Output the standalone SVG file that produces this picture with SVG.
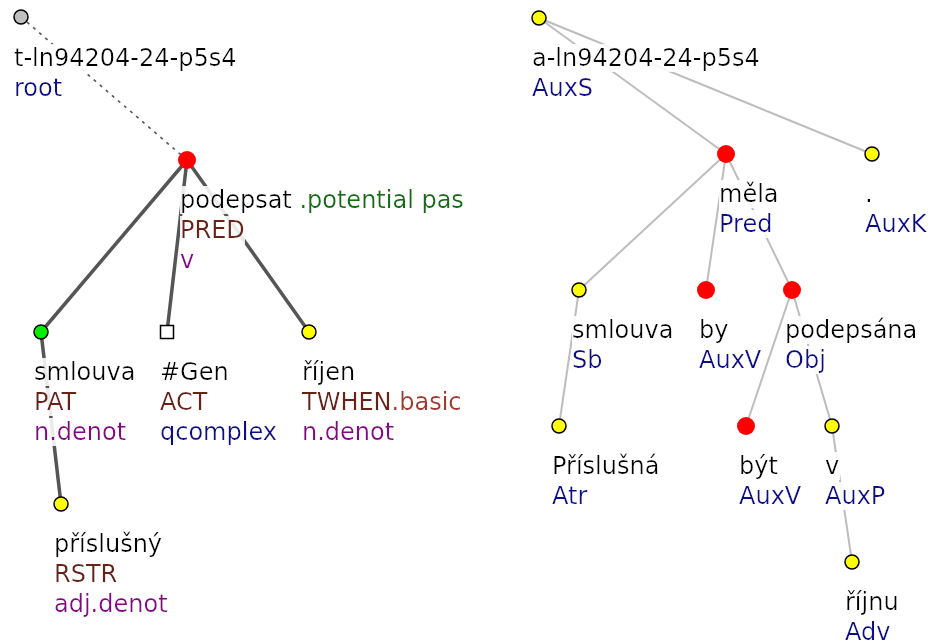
<svg xmlns="http://www.w3.org/2000/svg" width="930" height="641" viewBox="0 0 930 641">
  <defs>
    <!-- translucent white plate behind each label line, sized to the text box -->
    <filter id="plate" x="0" y="0" width="1" height="1">
      <feFlood flood-color="#ffffff" flood-opacity="0.88" result="bg"/>
      <feMerge>
        <feMergeNode in="bg"/>
        <feMergeNode in="SourceGraphic"/>
      </feMerge>
    </filter>
  </defs>
  <style>
    text { font-family: "DejaVu Sans", "Liberation Sans", sans-serif; font-size: 24px; fill: #000; filter: url(#plate); }
    .blue { fill: #0a0a8c; }
    .func { fill: #6b2012; }
    .sem { fill: #8b008b; }
    .gram { fill: #0f6f0f; }
    .gram2 { fill: #a3372a; }
    .tedge { stroke: #555555; stroke-width: 3.5; stroke-linecap: round; fill: none; }
    .dash { stroke: #555555; stroke-width: 1.6; stroke-dasharray: 3 5; fill: none; }
    .aedge { stroke: #bdbdbd; stroke-width: 2; fill: none; }
    .yel { fill: #ffff00; stroke: #000; stroke-width: 1.5; }
    .red { fill: #ff0000; }
    .grey { fill: #c0c0c0; stroke: #000; stroke-width: 1.5; }
    .grn { fill: #00ee00; stroke: #000; stroke-width: 1.5; }
    .sq { fill: #ffffff; stroke: #000; stroke-width: 1.5; }
  </style>

  <rect width="930" height="641" fill="#ffffff"/>

  <!-- connectors -->
  <g id="connectors">
    <!-- tectogrammatical tree -->
    <line class="dash" x1="21" y1="17" x2="187" y2="160"/>
    <line class="tedge" x1="187" y1="160" x2="41" y2="332"/>
    <line class="tedge" x1="187" y1="160" x2="167" y2="332"/>
    <line class="tedge" x1="187" y1="160" x2="309" y2="332"/>
    <line class="tedge" x1="41" y1="332" x2="61" y2="504"/>
    <!-- analytical tree -->
    <line class="aedge" x1="539" y1="18" x2="726" y2="154"/>
    <line class="aedge" x1="539" y1="18" x2="872" y2="154"/>
    <line class="aedge" x1="726" y1="154" x2="579" y2="290"/>
    <line class="aedge" x1="726" y1="154" x2="706" y2="290"/>
    <line class="aedge" x1="726" y1="154" x2="792" y2="290"/>
    <line class="aedge" x1="579" y1="290" x2="559" y2="426"/>
    <line class="aedge" x1="792" y1="290" x2="746" y2="426"/>
    <line class="aedge" x1="792" y1="290" x2="832" y2="426"/>
    <line class="aedge" x1="832" y1="426" x2="852" y2="562"/>
  </g>

  <!-- tectogrammatical nodes -->
  <g id="t-root">
    <text x="14" y="66">t-ln94204-24-p5s4</text>
    <text x="14" y="96" class="blue">root</text>
    <circle class="grey" cx="21" cy="17" r="7"/>
  </g>
  <g id="t-podepsat">
    <text x="180" y="208">podepsat <tspan class="gram">.potential pas</tspan></text>
    <text x="180" y="238" class="func">PRED</text>
    <text x="180" y="268" class="sem">v</text>
    <circle class="red" cx="187" cy="160" r="9"/>
  </g>
  <g id="t-smlouva">
    <text x="34" y="380">smlouva</text>
    <text x="34" y="410" class="func">PAT</text>
    <text x="34" y="440" class="sem">n.denot</text>
    <circle class="grn" cx="41" cy="332" r="7"/>
  </g>
  <g id="t-gen">
    <text x="160" y="380">#Gen</text>
    <text x="160" y="410" class="func">ACT</text>
    <text x="160" y="440" class="blue">qcomplex</text>
    <rect class="sq" x="160.5" y="325.5" width="13" height="13"/>
  </g>
  <g id="t-rijen">
    <text x="302" y="380">říjen</text>
    <text x="302" y="410" class="func">TWHEN<tspan class="gram2">.basic</tspan></text>
    <text x="302" y="440" class="sem">n.denot</text>
    <circle class="yel" cx="309" cy="332" r="7"/>
  </g>
  <g id="t-prislusny">
    <text x="54" y="552">příslušný</text>
    <text x="54" y="582" class="func">RSTR</text>
    <text x="54" y="612" class="sem">adj.denot</text>
    <circle class="yel" cx="61" cy="504" r="7"/>
  </g>

  <!-- analytical nodes -->
  <g id="a-root">
    <text x="532" y="66">a-ln94204-24-p5s4</text>
    <text x="532" y="96" class="blue">AuxS</text>
    <circle class="yel" cx="539" cy="18" r="7"/>
  </g>
  <g id="a-mela">
    <text x="719" y="202">měla</text>
    <text x="719" y="232" class="blue">Pred</text>
    <circle class="red" cx="726" cy="154" r="9"/>
  </g>
  <g id="a-dot">
    <text x="865" y="202">.</text>
    <text x="865" y="232" class="blue">AuxK</text>
    <circle class="yel" cx="872" cy="154" r="7"/>
  </g>
  <g id="a-smlouva">
    <text x="572" y="338">smlouva</text>
    <text x="572" y="368" class="blue">Sb</text>
    <circle class="yel" cx="579" cy="290" r="7"/>
  </g>
  <g id="a-by">
    <text x="699" y="338">by</text>
    <text x="699" y="368" class="blue">AuxV</text>
    <circle class="red" cx="706" cy="290" r="9"/>
  </g>
  <g id="a-podepsana">
    <text x="785" y="338">podepsána</text>
    <text x="785" y="368" class="blue">Obj</text>
    <circle class="red" cx="792" cy="290" r="9"/>
  </g>
  <g id="a-prislusna">
    <text x="552" y="474">Příslušná</text>
    <text x="552" y="504" class="blue">Atr</text>
    <circle class="yel" cx="559" cy="426" r="7"/>
  </g>
  <g id="a-byt">
    <text x="739" y="474">být</text>
    <text x="739" y="504" class="blue">AuxV</text>
    <circle class="red" cx="746" cy="426" r="9"/>
  </g>
  <g id="a-v">
    <text x="825" y="474">v</text>
    <text x="825" y="504" class="blue">AuxP</text>
    <circle class="yel" cx="832" cy="426" r="7"/>
  </g>
  <g id="a-rijnu">
    <text x="845" y="610">říjnu</text>
    <text x="845" y="640" class="blue">Adv</text>
    <circle class="yel" cx="852" cy="562" r="7"/>
  </g>
</svg>
